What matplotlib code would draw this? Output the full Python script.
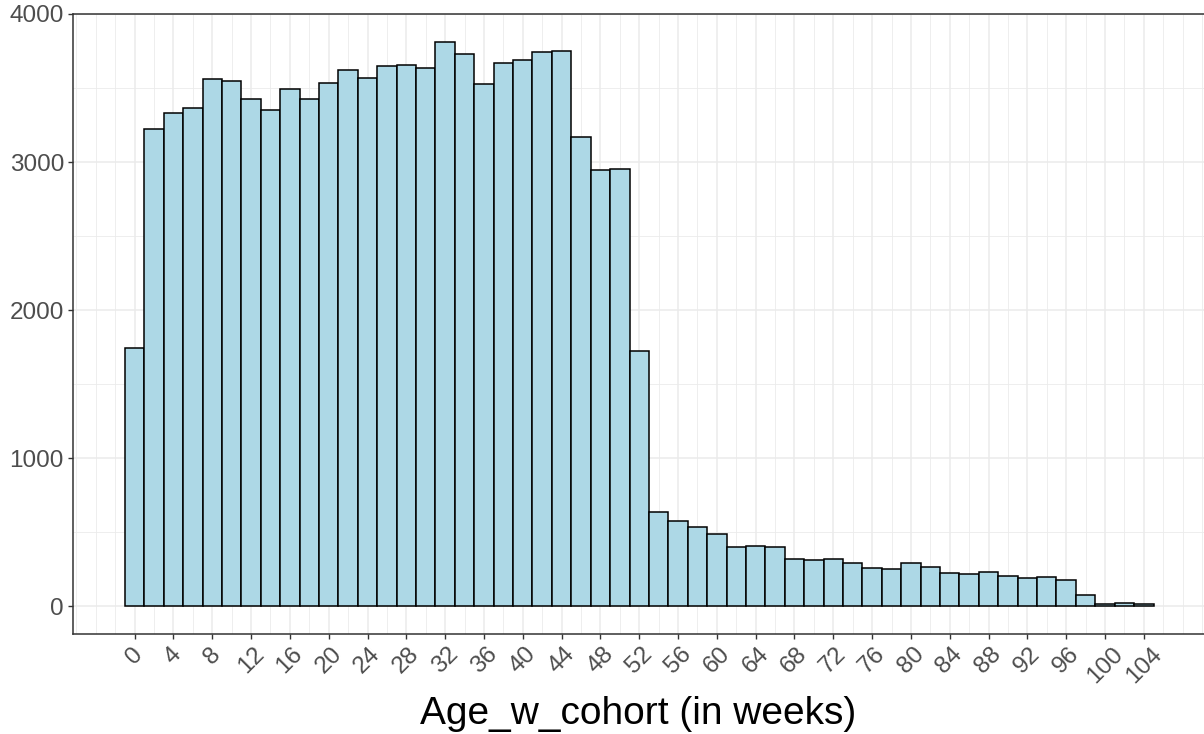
import matplotlib
matplotlib.use("Agg")
import matplotlib.pyplot as plt
from matplotlib.ticker import MultipleLocator

plt.rcParams['font.family'] = ['Liberation Sans', 'DejaVu Sans']

# bin centres (2-week bins) and counts
week_bins = list(range(0, 106, 2))
counts = [1743, 3223, 3330, 3367, 3561, 3550, 3424, 3353, 3494, 3427,
          3532, 3622, 3570, 3651, 3657, 3636, 3809, 3732, 3525, 3669,
          3691, 3745, 3750, 3171, 2948, 2953, 1725, 637, 573, 532,
          485, 402, 407, 402, 321, 312, 316, 292, 260, 247,
          290, 264, 223, 216, 228, 205, 192, 195, 174, 72,
          14, 20, 12]
tick_weeks = list(range(0, 105, 4))
y_ticks = [0, 1000, 2000, 3000, 4000]

fig = plt.figure(figsize=(12.04, 7.34), dpi=100)
ax = fig.add_axes([73 / 1204, 1 - 634 / 734, 1 - 73 / 1204, 620 / 734])

ax.bar(week_bins, counts, width=2, color='#ADD8E6', edgecolor='black',
       linewidth=1.1, zorder=3)

ax.set_xlim(-6.35, 110.2)
ax.set_ylim(-189, 4000)

ax.set_xticks(tick_weeks)
ax.set_xticklabels([str(t) for t in tick_weeks], rotation=45, ha='center')
ax.xaxis.set_minor_locator(MultipleLocator(2))
ax.set_yticks(y_ticks)
ax.set_yticklabels([str(v) for v in y_ticks])
ax.yaxis.set_minor_locator(MultipleLocator(500))

ax.grid(which='major', color='#EBEBEB', linewidth=1.1, zorder=0)
ax.grid(which='minor', color='#EBEBEB', linewidth=0.6, zorder=0)
ax.set_axisbelow(True)

ax.tick_params(axis='both', which='major', labelsize=17.5, labelcolor='#4D4D4D',
               color='#333333', length=3.5, width=1, pad=3)
ax.tick_params(axis='both', which='minor', length=0)

for side in ['left', 'bottom', 'top']:
    ax.spines[side].set_color('#333333')
    ax.spines[side].set_linewidth(1.1)
ax.spines['right'].set_visible(False)

ax.set_xlabel('Age_w_cohort (in weeks)', fontsize=28, color='black', labelpad=6)

fig.savefig('out.png', dpi=100)
